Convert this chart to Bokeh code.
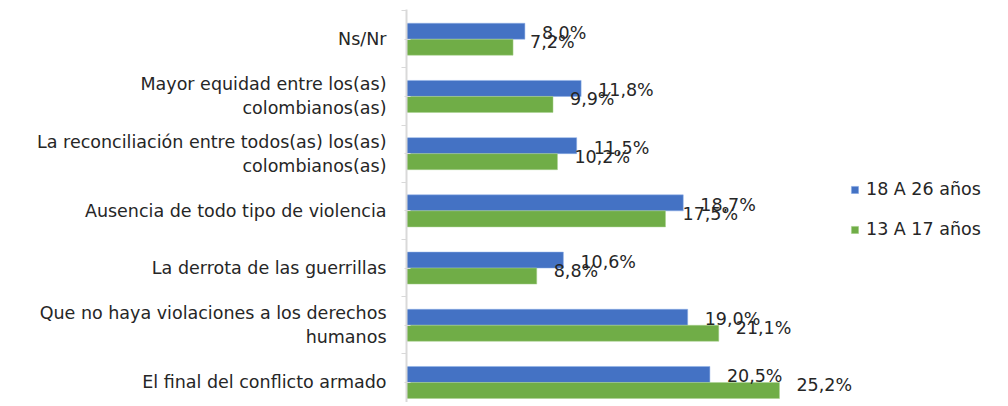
from bokeh.plotting import figure
from bokeh.models import ColumnDataSource, Range1d, FixedTicker, Legend, LegendItem, LinearAxis
from bokeh.core.properties import value
from bokeh.embed import file_html
from bokeh.resources import INLINE

categories = [
    "Ns/Nr",
    "Mayor equidad entre los(as)\ncolombianos(as)",
    "La reconciliación entre todos(as) los(as)\ncolombianos(as)",
    "Ausencia de todo tipo de violencia",
    "La derrota de las guerrillas",
    "Que no haya violaciones a los derechos\nhumanos",
    "El final del conflicto armado",
]
serie_18_26 = [8.0, 11.8, 11.5, 18.7, 10.6, 19.0, 20.5]
serie_13_17 = [7.2, 9.9, 10.2, 17.5, 8.8, 21.1, 25.2]
series_names = ["18 A 26 años", "13 A 17 años"]

BLUE = "#4472C4"
GREEN = "#70AD47"
TXT = "#262626"
FONT = "DejaVu Sans"
FS = "17.5px"

n = len(categories)
centers = [n - i - 0.5 for i in range(n)]
bh = 0.28

def fmt(v):
    return f"{v:.1f}".replace(".", ",") + "%"

src_a = ColumnDataSource(dict(y=[c + bh / 2 for c in centers], v=serie_18_26,
                              lab=[fmt(v) for v in serie_18_26]))
src_b = ColumnDataSource(dict(y=[c - bh / 2 for c in centers], v=serie_13_17,
                              lab=[fmt(v) for v in serie_13_17]))

FW = 592
p = figure(width=998, height=403, frame_width=FW, frame_height=393,
           x_range=Range1d(0, FW / 14.8), y_range=Range1d(0.15, n + 0.02),
           output_backend="svg", toolbar_location=None,
           x_axis_location=None, y_axis_location=None,
           min_border_top=9, min_border_bottom=0, min_border_left=406, min_border_right=0)
p.outline_line_color = None
p.xgrid.visible = False
p.ygrid.visible = False

ax = LinearAxis()
ax.ticker = FixedTicker(ticks=centers, minor_ticks=list(range(n + 1)))
ax.major_label_overrides = {c: lab for c, lab in zip(centers, categories)}
ax.axis_line_color = "#d9d9d9"
ax.axis_line_width = 2
ax.major_tick_line_color = "#d9d9d9"
ax.minor_tick_line_color = "#d9d9d9"
ax.major_tick_in = 4
ax.major_tick_out = 2
ax.minor_tick_in = 0
ax.minor_tick_out = 5
ax.major_label_standoff = 15
ax.major_label_text_font = FONT
ax.major_label_text_font_size = FS
ax.major_label_text_color = TXT
p.add_layout(ax, "left")

ra = p.hbar(y="y", right="v", left=0, height=bh, source=src_a,
            fill_color=BLUE, line_color="#8fb0e8", line_width=0.5)
rb = p.hbar(y="y", right="v", left=0, height=bh, source=src_b,
            fill_color=GREEN, line_color="#a9d18e", line_width=0.5)

p.text(x="v", y="y", text="lab", source=src_a, x_offset=17, y_offset=2,
       text_baseline="middle", text_align="left", text_font=value(FONT),
       text_font_size=FS, text_color=TXT)
p.text(x="v", y="y", text="lab", source=src_b, x_offset=17, y_offset=-5,
       text_baseline="middle", text_align="left", text_font=value(FONT),
       text_font_size=FS, text_color=TXT)

legend = Legend(items=[LegendItem(label=series_names[0], renderers=[ra]),
                       LegendItem(label=series_names[1], renderers=[rb])],
                location=(444, 163), orientation="vertical",
                glyph_width=9, glyph_height=9, label_standoff=7,
                label_height=20, spacing=20, margin=0, padding=12,
                border_line_color=None, background_fill_alpha=0,
                label_text_font=FONT, label_text_font_size=FS,
                label_text_color=TXT)
p.add_layout(legend)

open("out.html", "w").write(file_html(p, INLINE))
